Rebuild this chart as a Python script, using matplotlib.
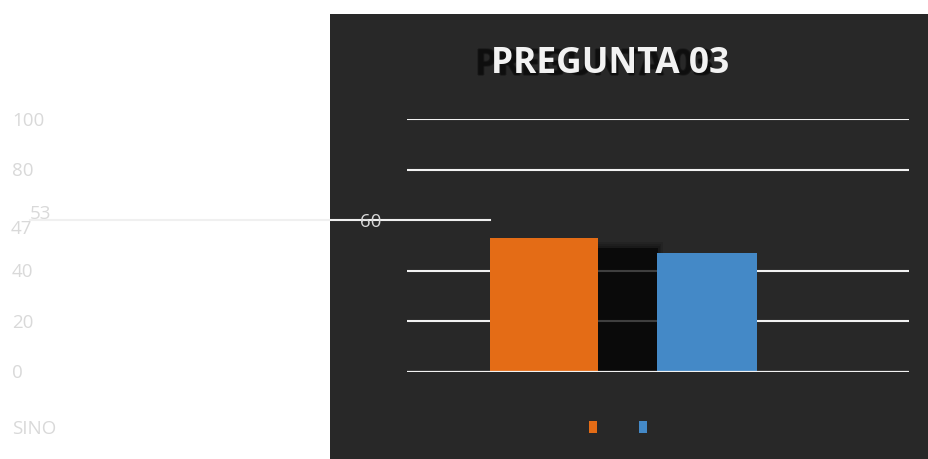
import matplotlib
matplotlib.use("Agg")
import matplotlib.pyplot as plt
import matplotlib.transforms as mtransforms
from matplotlib.patches import Rectangle, Patch

categories = ["SI", "NO"]
values = [53, 47]
grid_ticks = [0, 20, 40, 80, 100]
axis_labels = ["0", "20", "40", "80", "100"]
title = "PREGUNTA 03"

orange = "#e46c16"
blue = "#4489c7"
panel = "#282828"
faint = "#d9d9d9"

plt.rcParams["font.family"] = ["Open Sans", "DejaVu Sans"]

fig = plt.figure(figsize=(9.29, 4.59), dpi=100)
fig.patch.set_facecolor("white")

# dark chart panel (starts part way across the picture)
fig.patches.append(Rectangle((330 / 929, 0), 599 / 929, 445 / 459,
                             transform=fig.transFigure, facecolor=panel,
                             edgecolor="none", zorder=-5))

ax = fig.add_axes([407 / 929, 87 / 459, 502 / 929, 253 / 459])
ax.set_zorder(2)
ax.set_facecolor("none")
ax.set_xlim(-0.84, 2.24)
ax.set_ylim(0, 100)
for s in ax.spines.values():
    s.set_visible(False)
ax.set_xticks([])
ax.set_yticks([])

for t in grid_ticks[1:]:
    ax.axhline(t, color="#f2f2f2", lw=1.5, zorder=1)
ax.axhline(0, color="#f2f2f2", lw=1.6, zorder=5)
# stray 60 gridline
ax.axhline(60, xmin=(30 - 407) / 502, xmax=(490 - 407) / 502,
           color="#f0f0f0", lw=1.5, clip_on=False, zorder=1)

xs = list(range(len(categories)))
# soft shadow of first bar
for k, a in enumerate([0.12, 0.12, 0.15, 0.6]):
    ax.bar(xs[0] + 0.35, values[0] - 1.5 - k * 0.8, width=0.76 - k * 0.02,
           color="black", alpha=a, zorder=2, linewidth=0)
ax.bar(xs, values, width=[0.66, 0.61], color=[orange, blue], zorder=3,
       linewidth=0)

# axis labels drawn at the far left
lab_tr = mtransforms.blended_transform_factory(fig.transFigure, ax.transData)
lab_tr = lab_tr + mtransforms.ScaledTranslation(0, -1.5 / 100, fig.dpi_scale_trans)
fs = 13.5
for t, lab in zip(grid_ticks, axis_labels):
    ax.text(12 / 929, t, lab, transform=lab_tr, ha="left", va="center",
            color=faint, fontsize=fs, clip_on=False)
ax.text(360 / 929, 60, "60", transform=lab_tr, ha="left", va="center",
        color=faint, fontsize=fs, clip_on=False)

# data labels, displaced
ax.text(30 / 929, values[0] + 10, str(values[0]), transform=lab_tr,
        ha="left", va="center", color=faint, fontsize=fs, clip_on=False)
ax.text(11 / 929, values[1] + 10, str(values[1]), transform=lab_tr,
        ha="left", va="center", color=faint, fontsize=fs, clip_on=False)

fig.text(12 / 929, 1 - 429 / 459, "".join(categories), ha="left",
         va="center", color=faint, fontsize=fs)

# title with offset blurred dark shadow
for dx, dy in [(-17, -2), (-15, -2), (-16, -3), (-16, -1), (-16, -2)]:
    tr = fig.transFigure + mtransforms.ScaledTranslation(dx / 100, dy / 100,
                                                         fig.dpi_scale_trans)
    fig.text(610 / 929, 1 - 64 / 459, title, transform=tr, ha="center",
             va="center", color="#0a0a0a", alpha=0.3, fontsize=25.5,
             fontweight="bold")
fig.text(610 / 929, 1 - 64 / 459, title, ha="center", va="center",
         color="#f2f2f2", fontsize=25.5, fontweight="bold")

handles = [Patch(facecolor=orange, edgecolor="none"),
           Patch(facecolor=blue, edgecolor="none")]
fig.legend(handles, ["", ""], loc="center",
           bbox_to_anchor=(618 / 929, 1 - 428.5 / 459), ncol=2, frameon=False,
           fontsize=10, handlelength=0.6, handleheight=0.95, handletextpad=0,
           columnspacing=3.0, borderpad=0)

fig.savefig("out.png", dpi=100)
